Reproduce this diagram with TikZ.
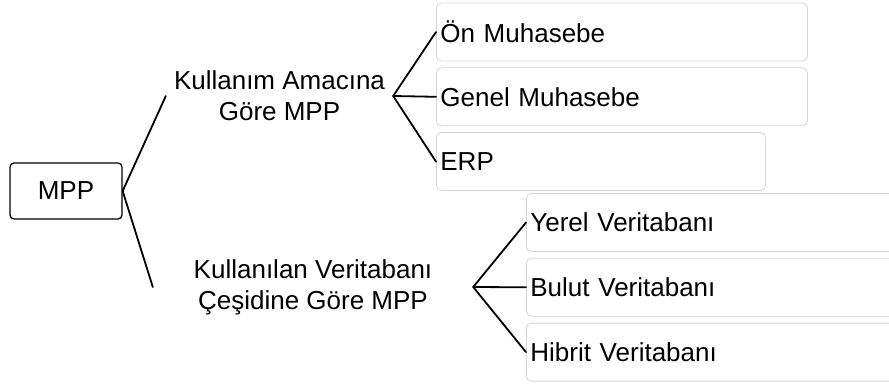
\documentclass[tikz,border=0pt]{standalone}
\usepackage{fontspec}
\setmainfont{Liberation Sans}
\usepackage{tikz}
\usetikzlibrary{positioning}
\tikzstyle{root} = [rectangle, rounded corners=4pt, minimum width=112pt, minimum height=56pt, text centered, draw=black, line width=1.3pt]
\tikzstyle{group} = [align=center, inner sep=0pt]
\tikzstyle{leaf} = [rectangle, rounded corners=5pt, minimum height=58pt, inner sep=4pt, align=left, draw=black!16, line width=0.8pt]
\tikzstyle{branch} = [line width=1.8pt, line cap=round]

\begin{document}
\begin{tikzpicture}[x=1pt, y=-1pt, font=\fontsize{26}{31}\selectfont]
		\useasboundingbox (0,0) rectangle (889,383);
		\node[root] (mpp) at (66,191) {MPP};
		\node[group, minimum width=227pt] (usage) at (279.5,96) {Kullanım Amacına\\Göre MPP};
		\node[group, minimum width=320pt] (dbtype) at (313,287) {Kullanılan Veritabanı\\Çeşidine Göre MPP};

		\node[leaf, text width=363pt, anchor=west] (pre) at (436,32) {Ön Muhasebe};
		\node[leaf, text width=363pt, below=6pt of pre] (general) {Genel Muhasebe};
		\node[leaf, text width=321pt, below=6pt of general.south west, anchor=north west] (erp) {ERP};

		\node[leaf, text width=380pt, anchor=west] (local) at (526,222.5) {Yerel Veritabanı};
		\node[leaf, text width=380pt, below=6pt of local] (cloud) {Bulut Veritabanı};
		\node[leaf, text width=380pt, below=6pt of cloud] (hybrid) {Hibrit Veritabanı};

		\draw[branch] (mpp.east) -- (usage.west);
		\draw[branch] (mpp.east) -- (dbtype.west);
		\draw[branch] (usage.east) -- (pre.west);
		\draw[branch] (usage.east) -- (general.west);
		\draw[branch] (usage.east) -- (erp.west);
		\draw[branch] (dbtype.east) -- (local.west);
		\draw[branch] (dbtype.east) -- (cloud.west);
		\draw[branch] (dbtype.east) -- (hybrid.west);
	\end{tikzpicture}
\end{document}
